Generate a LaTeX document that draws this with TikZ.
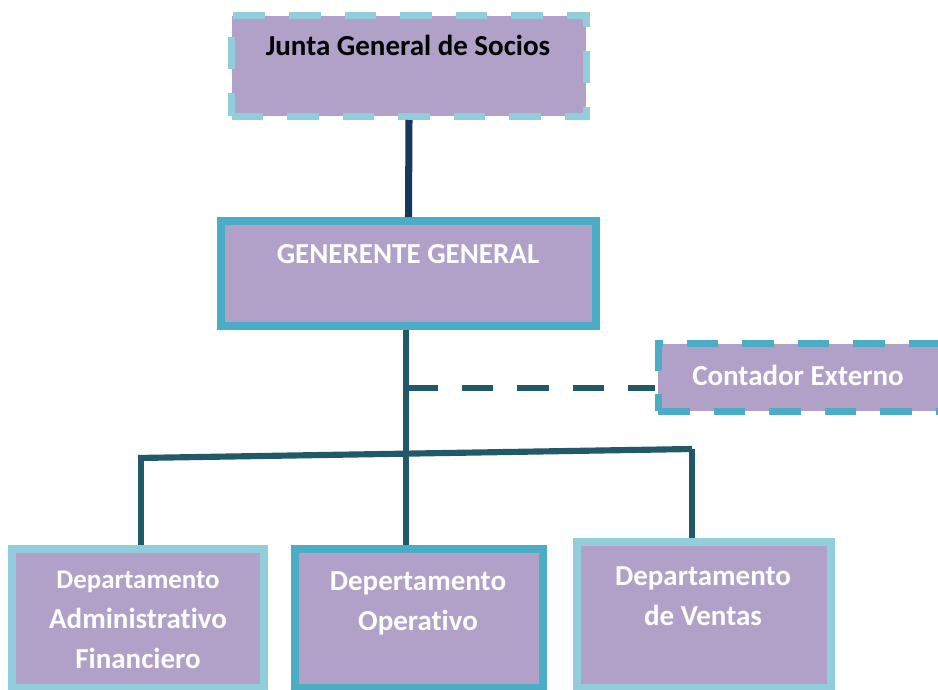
\documentclass[tikz,border=0pt]{standalone}
\usepackage{fontspec}
\setmainfont{Carlito}[Ligatures=NoCommon]
\usetikzlibrary{calc}

\definecolor{lila}{HTML}{B1A0C7}
\definecolor{celeste}{HTML}{92CDDC}
\definecolor{turquesa}{HTML}{4BACC6}
\definecolor{marino}{HTML}{17375E}
\definecolor{petroleo}{HTML}{215968}

\tikzset{
  caja/.style={rectangle, fill=lila, inner sep=0pt},
  rayas/.style={dash pattern=on 18pt off 13.6pt},
  texto/.style={font=\bfseries\fontsize{16.5}{22.7}\selectfont, text=white, align=center},
  enlace/.style={draw=petroleo, line width=3.5pt}
}

\begin{document}
\begin{tikzpicture}[x=0.02cm, y=-0.02cm]
  \useasboundingbox (0,0) rectangle (938,690);

  \node (junta) [caja, draw=celeste, line width=4pt, rayas,
    minimum width=7.1cm, minimum height=2.02cm] at (409,66) {};
  \node (gerente) [caja, draw=turquesa, line width=4.5pt,
    minimum width=7.5cm, minimum height=2.1cm] at (408.5,273.5) {};
  \node (contador) [caja, draw=turquesa, line width=4pt, rayas,
    minimum width=6.03cm, minimum height=1.36cm] at (809,377.5) {};
  \node (admin) [caja, draw=celeste, line width=4.5pt,
    minimum width=5.04cm, minimum height=2.78cm] at (138,618.5) {};
  \node (oper) [caja, draw=turquesa, line width=4.5pt,
    minimum width=4.96cm, minimum height=2.78cm] at (419,618.5) {};
  \node (ventas) [caja, draw=celeste, line width=4.5pt,
    minimum width=5.08cm, minimum height=2.92cm] at (704,615) {};

  \node (juntatxt) [texto, text=black] at (408,45) {Junta General de Socios};
  \node (gerentetxt) [texto] at (408,254) {GENERENTE GENERAL};
  \node (contadortxt) [texto] at (798,375) {Contador Externo};
  \node (admintxt) [texto] at (138,620)
    {{\fontsize{15.3}{22.7}\selectfont Departamento}\\Administrativo\\Financiero};
  \node (opertxt) [texto] at (418,603) {Depertamento\\Operativo};
  \node (ventastxt) [texto] at (703,596) {Departamento\\de Ventas};

  \coordinate (izq) at (141,458);
  \coordinate (der) at (692,449);
  \coordinate (toma) at (406,388);

  \draw[draw=marino, line width=4pt] (junta.south) -- (gerente.north);
  \draw[enlace] (gerente.south -| toma) -- (toma |- oper.north);
  \draw[enlace] (izq -| admin.north) -- (der);
  \draw[enlace] (izq) -- (izq |- admin.north);
  \draw[enlace] (der) -- (der |- ventas.north);
  \draw[enlace, rayas] (toma) -- (toma -| contador.west);
\end{tikzpicture}
\end{document}
